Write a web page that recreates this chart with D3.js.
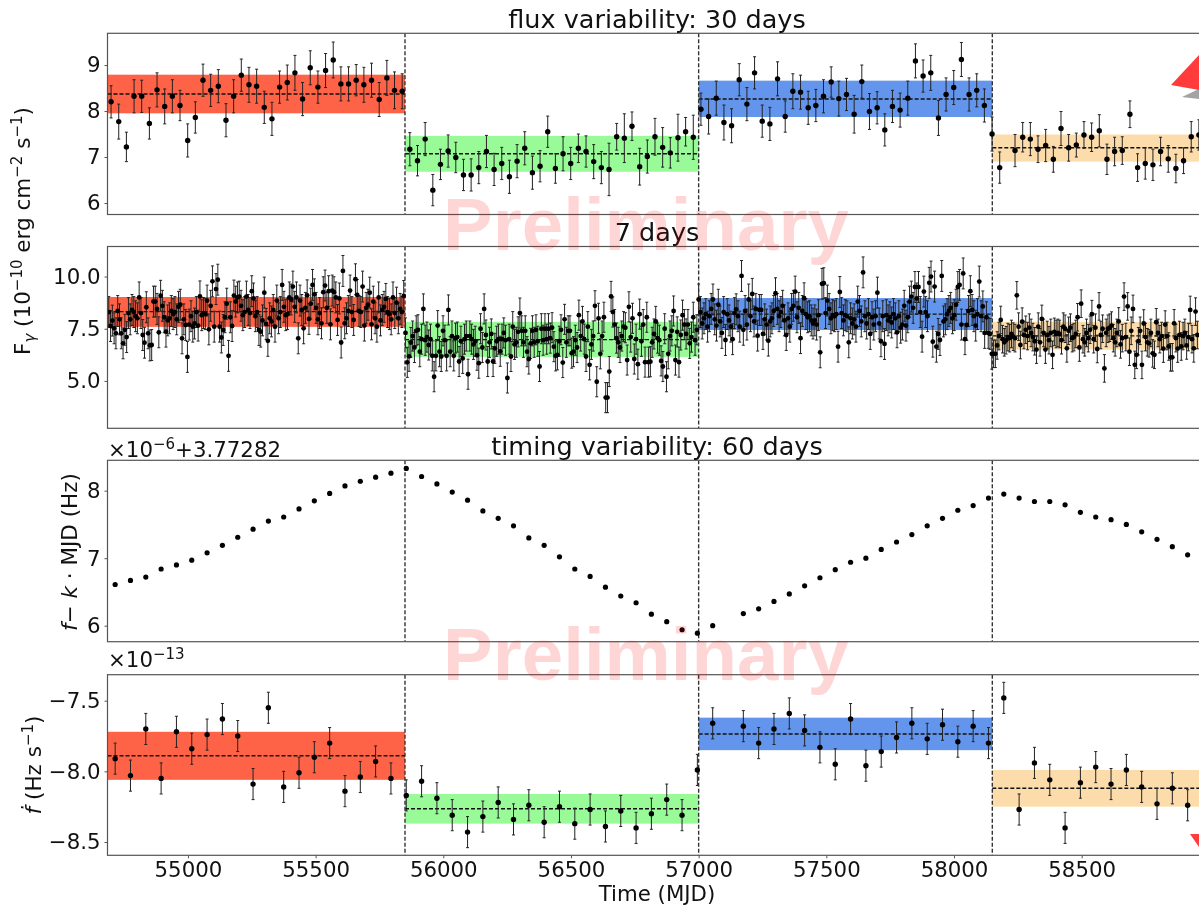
<!DOCTYPE html>
<html>
<head>
<meta charset="utf-8">
<script src="https://d3js.org/d3.v7.min.js"></script>
<style>
  body { margin: 0; background: #fff; }
  svg { display: block; filter: blur(0.35px); }
  text { font-family: "DejaVu Sans", sans-serif; fill: #111; }
</style>
</head>
<body>
<div id="chart"></div>
<script>
// state boundaries in MJD and the colours of the four states
const breaks = [55850, 57000, 58150];
const stateColors = ["#ff6347", "#98fb98", "#6495ed", "#fddcac"];

// band limits and mean for every state, one row per panel
const flux30Low = [7.95, 6.68, 7.87, 6.90];
const flux30High = [8.79, 7.46, 8.66, 7.49];
const flux30Mean = [8.37, 7.07, 8.26, 7.20];
const flux7Low = [7.59, 6.15, 7.44, 6.50];
const flux7High = [9.02, 7.83, 8.97, 7.83];
const flux7Mean = [8.32, 6.98, 8.20, 7.16];
const fdotLow = [-8.06, -8.37, -7.85, -8.25];
const fdotHigh = [-7.72, -8.16, -7.62, -7.99];
const fdotMean = [-7.89, -8.265, -7.736, -8.12];

// flux, 30 day bins
const time30 = [
  54699, 54729, 54759, 54789, 54819, 54849, 54879, 54909, 54939, 54969,
  54999, 55029, 55059, 55089, 55119, 55149, 55179, 55209, 55239, 55269,
  55299, 55329, 55359, 55389, 55419, 55449, 55479, 55509, 55539, 55569,
  55599, 55629, 55659, 55689, 55719, 55749, 55779, 55809, 55839,
  55869, 55899, 55929, 55959, 55989, 56019, 56049, 56079, 56109, 56139,
  56169, 56199, 56229, 56259, 56289, 56319, 56349, 56379, 56409, 56439,
  56469, 56499, 56529, 56559, 56589, 56619, 56649, 56679, 56709, 56739,
  56769, 56799, 56829, 56859, 56889, 56919, 56949, 56979,
  57009, 57039, 57069, 57099, 57129, 57159, 57189, 57219, 57249, 57279,
  57309, 57339, 57369, 57399, 57429, 57459, 57489, 57519, 57549, 57579,
  57609, 57639, 57669, 57699, 57729, 57759, 57789, 57819, 57849, 57879,
  57909, 57939, 57969, 57999, 58029, 58059, 58089, 58119, 58149,
  58179, 58239, 58269, 58299, 58329, 58359, 58389, 58419, 58449, 58479,
  58509, 58539, 58569, 58599, 58629, 58659, 58689, 58719, 58749, 58779,
  58809, 58839, 58869, 58899, 58929, 58959
];
const flux30 = [
  8.20, 7.77, 7.22, 8.32, 8.32, 7.73, 8.46, 8.10, 8.32, 8.12,
  7.36, 7.86, 8.67, 8.45, 8.54, 7.80, 8.32, 8.78, 8.57, 8.54,
  8.08, 7.83, 8.52, 8.62, 8.83, 8.26, 8.94, 8.52, 8.88, 9.11,
  8.59, 8.59, 8.67, 8.57, 8.67, 8.25, 8.72, 8.45, 8.43,
  7.17, 6.92, 7.39, 6.28, 6.84, 7.13, 6.99, 6.61, 6.61, 6.77,
  7.12, 6.73, 6.86, 6.57, 6.91, 7.19, 6.66, 6.80, 7.55, 6.75,
  7.07, 6.86, 7.19, 7.12, 6.90, 6.77, 6.73, 7.44, 7.41, 7.67,
  6.79, 7.01, 7.44, 7.21, 7.09, 7.42, 7.55, 7.43,
  8.04, 7.88, 8.28, 7.75, 7.68, 8.68, 8.15, 8.83, 7.78, 7.72,
  8.70, 7.88, 8.43, 8.41, 8.07, 8.12, 8.32, 8.63, 8.27, 8.36,
  7.93, 8.64, 7.99, 8.07, 7.59, 8.10, 8.02, 8.28, 9.09, 8.76,
  8.83, 7.85, 8.36, 8.51, 9.12, 8.36, 8.45, 8.12, 7.50,
  6.77, 7.14, 7.43, 7.39, 7.17, 7.25, 6.95, 7.62, 7.20, 7.26,
  7.48, 7.43, 7.57, 6.95, 7.12, 7.14, 7.93, 6.77, 6.86, 6.83,
  7.12, 6.96, 6.75, 6.92, 7.44, 7.48
];
const flux30Err = [
  .35, .38, .32, .36, .35, .34, .37, .38, .36, .33,
  .36, .34, .35, .35, .36, .36, .36, .35, .38, .37,
  .35, .36, .35, .38, .38, .36, .37, .35, .37, .39,
  .37, .37, .34, .38, .37, .37, .38, .40, .38,
  .36, .33, .36, .34, .33, .35, .33, .34, .35, .35,
  .35, .35, .35, .36, .36, .36, .36, .34, .34, .32,
  .37, .35, .31, .34, .37, .35, .57, .29, .53, .31,
  .40, .36, .40, .43, .33, .51, .31, .48,
  .35, .38, .37, .38, .37, .35, .36, .35, .35, .36,
  .37, .34, .38, .37, .36, .35, .36, .33, .38, .35,
  .41, .36, .39, .35, .35, .35, .37, .37, .37, .35,
  .38, .38, .36, .37, .37, .36, .36, .36, .37,
  .34, .35, .32, .36, .29, .35, .28, .37, .29, .26,
  .29, .31, .35, .33, .31, .30, .29, .30, .34, .34,
  .31, .29, .31, .28, .33, .33
];

// flux, 7 day bins. error bar read once per state
const flux7Err = [0.74, 0.72, 0.74, 0.66];
const time7 = [
  54690, 54697, 54704, 54711, 54718, 54725, 54732, 54739, 54746, 54753,
  54760, 54767, 54774, 54781, 54788, 54795, 54802, 54809, 54816, 54823,
  54830, 54837, 54844, 54851, 54858, 54865, 54872, 54879, 54886, 54893,
  54900, 54907, 54914, 54921, 54928, 54935, 54942, 54949, 54956, 54963,
  54970, 54977, 54984, 54991, 54998, 55005, 55012, 55019, 55026, 55033,
  55040, 55047, 55054, 55061, 55068, 55075, 55082, 55089, 55096, 55103,
  55110, 55117, 55124, 55131, 55138, 55145, 55152, 55159, 55166, 55173,
  55180, 55187, 55194, 55201, 55208, 55215, 55222, 55229, 55236, 55243,
  55250, 55257, 55264, 55271, 55278, 55285, 55292, 55299, 55306, 55313,
  55320, 55327, 55334, 55341, 55348, 55355, 55362, 55369, 55376, 55383,
  55390, 55397, 55404, 55411, 55418, 55425, 55432, 55439, 55446, 55453,
  55460, 55467, 55474, 55481, 55488, 55495, 55502, 55509, 55516, 55523,
  55530, 55537, 55544, 55551, 55558, 55565, 55572, 55579, 55586, 55593,
  55600, 55607, 55614, 55621, 55628, 55635, 55642, 55649, 55656, 55663,
  55670, 55677, 55684, 55691, 55698, 55705, 55712, 55719, 55726, 55733,
  55740, 55747, 55754, 55761, 55768, 55775, 55782, 55789, 55796, 55803,
  55810, 55817, 55824, 55831, 55838, 55845, 55852, 55859, 55866, 55873,
  55880, 55887, 55894, 55901, 55908, 55915, 55922, 55929, 55936, 55943,
  55950, 55957, 55964, 55971, 55978, 55985, 55992, 55999, 56006, 56013,
  56020, 56027, 56034, 56041, 56048, 56055, 56062, 56069, 56076, 56083,
  56090, 56097, 56104, 56111, 56118, 56125, 56132, 56139, 56146, 56153,
  56160, 56167, 56174, 56181, 56188, 56195, 56202, 56209, 56216, 56223,
  56230, 56237, 56244, 56251, 56258, 56265, 56272, 56279, 56286, 56293,
  56300, 56307, 56314, 56321, 56328, 56335, 56342, 56349, 56356, 56363,
  56370, 56377, 56384, 56391, 56398, 56405, 56412, 56419, 56426, 56433,
  56440, 56447, 56454, 56461, 56468, 56475, 56482, 56489, 56496, 56503,
  56510, 56517, 56524, 56531, 56538, 56545, 56552, 56559, 56566, 56573,
  56580, 56587, 56594, 56601, 56608, 56615, 56622, 56629, 56636, 56643,
  56650, 56657, 56664, 56671, 56678, 56685, 56692, 56699, 56706, 56713,
  56720, 56727, 56734, 56741, 56748, 56755, 56762, 56769, 56776, 56783,
  56790, 56797, 56804, 56811, 56818, 56825, 56832, 56839, 56846, 56853,
  56860, 56867, 56874, 56881, 56888, 56895, 56902, 56909, 56916, 56923,
  56930, 56937, 56944, 56951, 56958, 56965, 56972, 56979, 56986, 56993,
  57000, 57007, 57014, 57021, 57028, 57035, 57042, 57049, 57056, 57063,
  57070, 57077, 57084, 57091, 57098, 57105, 57112, 57119, 57126, 57133,
  57140, 57147, 57154, 57161, 57168, 57175, 57182, 57189, 57196, 57203,
  57210, 57217, 57224, 57231, 57238, 57245, 57252, 57259, 57266, 57273,
  57280, 57287, 57294, 57301, 57308, 57315, 57322, 57329, 57336, 57343,
  57350, 57357, 57364, 57371, 57378, 57385, 57392, 57399, 57406, 57413,
  57420, 57427, 57434, 57441, 57448, 57455, 57462, 57469, 57476, 57483,
  57490, 57497, 57504, 57511, 57518, 57525, 57532, 57539, 57546, 57553,
  57560, 57567, 57574, 57581, 57588, 57595, 57602, 57609, 57616, 57623,
  57630, 57637, 57644, 57651, 57658, 57665, 57672, 57679, 57686, 57693,
  57700, 57707, 57714, 57721, 57728, 57735, 57742, 57749, 57756, 57763,
  57770, 57777, 57784, 57791, 57798, 57805, 57812, 57819, 57826, 57833,
  57840, 57847, 57854, 57861, 57868, 57875, 57882, 57889, 57896, 57903,
  57910, 57917, 57924, 57931, 57938, 57945, 57952, 57959, 57966, 57973,
  57980, 57987, 57994, 58001, 58008, 58015, 58022, 58029, 58036, 58043,
  58050, 58057, 58064, 58071, 58078, 58085, 58092, 58099, 58106, 58113,
  58120, 58127, 58134, 58141, 58148, 58155, 58162, 58169, 58176, 58183,
  58190, 58197, 58204, 58211, 58218, 58225, 58232, 58239, 58246, 58253,
  58260, 58267, 58274, 58281, 58288, 58295, 58302, 58309, 58316, 58323,
  58330, 58337, 58344, 58351, 58358, 58365, 58372, 58379, 58386, 58393,
  58400, 58407, 58414, 58421, 58428, 58435, 58442, 58449, 58456, 58463,
  58470, 58477, 58484, 58491, 58498, 58505, 58512, 58519, 58526, 58533,
  58540, 58547, 58554, 58561, 58568, 58575, 58582, 58589, 58596, 58603,
  58610, 58617, 58624, 58631, 58638, 58645, 58652, 58659, 58666, 58673,
  58680, 58687, 58694, 58701, 58708, 58715, 58722, 58729, 58736, 58743,
  58750, 58757, 58764, 58771, 58778, 58785, 58792, 58799, 58806, 58813,
  58820, 58827, 58834, 58841, 58848, 58855, 58862, 58869, 58876, 58883,
  58890, 58897, 58904, 58911, 58918, 58925, 58932, 58939, 58946, 58953
];
const flux7 = [
  8.3, 7.63, 7.89, 7.52, 7.28, 8.35, 7.95, 7.28, 6.8, 7.45,
  7.1, 8.25, 7.95, 8.4, 8.3, 8.1, 8.0, 9.0, 8.25, 7.2,
  6.83, 8.53, 7.28, 6.7, 6.72, 8.8, 8.8, 8.45, 7.33, 9.08,
  8.6, 8.05, 7.36, 7.9, 8.0, 8.35, 8.2, 8.3, 7.95, 8.55,
  8.65, 7.04, 7.95, 7.68, 6.15, 7.7, 8.1, 7.6, 7.75, 8.3,
  7.65, 9.05, 8.15, 8.25, 8.2, 8.85, 7.47, 8.6, 9.77, 7.6,
  9.4, 9.85, 7.6, 7.08, 7.44, 8.05, 8.7, 6.2, 8.05, 7.63,
  9.09, 8.8, 9.0, 9.04, 8.6, 8.15, 8.3, 9.04, 8.4, 8.25,
  9.3, 8.95, 8.1, 8.3, 7.44, 7.36, 7.9, 9.23, 7.73, 6.92,
  8.0, 7.85, 8.4, 7.6, 8.85, 8.0, 8.3, 9.6, 8.55, 8.15,
  8.2, 9.0, 8.9, 9.52, 8.55, 9.0, 7.04, 8.85, 8.4, 7.52,
  8.5, 9.1, 7.97, 8.7, 9.6, 9.15, 8.5, 7.95, 8.25, 7.76,
  9.25, 9.57, 8.5, 9.3, 7.71, 9.33, 9.25, 9.0, 7.92, 8.95,
  6.84, 10.27, 7.76, 8.0, 8.35, 9.33, 8.3, 7.92, 9.87, 9.12,
  8.35, 8.3, 9.52, 7.65, 8.5, 8.65, 9.23, 7.71, 8.8, 8.0,
  7.6, 9.0, 7.9, 8.4, 8.55, 8.93, 8.3, 8.2, 7.95, 9.0,
  8.25, 8.75, 8.0, 8.45, 8.3, 9.07,
  7.3, 5.89, 6.18, 6.84, 7.15, 6.6, 7.4, 7.45, 6.4, 7.0,
  8.45, 6.95, 7.1, 6.72, 7.0, 6.2, 5.2, 6.2, 7.65, 6.4,
  6.17, 7.4, 6.95, 6.2, 8.4, 6.4, 7.15, 6.2, 7.05, 7.1,
  5.93, 6.9, 6.08, 7.0, 7.15, 5.32, 7.15, 7.0, 6.75, 6.9,
  6.23, 5.85, 7.5, 6.6, 8.45, 7.2, 5.93, 6.85, 7.25, 5.93,
  6.56, 6.9, 7.0, 6.42, 7.0, 7.3, 6.95, 5.14, 7.0, 6.17,
  7.6, 6.75, 6.85, 7.35, 8.25, 7.4, 6.85, 7.4, 6.4, 6.05,
  6.8, 7.4, 6.85, 7.45, 6.9, 5.69, 7.5, 6.95, 7.5, 7.0,
  7.5, 7.05, 7.55, 6.64, 6.2, 6.25, 6.9, 7.45, 5.88, 7.95,
  6.85, 7.4, 7.4, 6.33, 6.4, 6.95, 6.6, 8.15, 7.15, 7.85,
  7.0, 6.17, 7.6, 5.77, 6.75, 7.15, 8.6, 4.96, 8.0, 6.3,
  7.15, 8.05, 4.2, 4.2, 5.45, 9.05, 8.3, 7.7, 7.05, 6.85,
  6.6, 7.15, 7.6, 7.55, 6.0, 8.55, 7.1, 8.0, 6.05, 7.0,
  5.8, 8.2, 6.9, 7.7, 5.9, 8.05, 5.9, 5.92, 6.85, 7.25,
  7.85, 7.05, 6.95, 5.96, 5.69, 7.5, 5.2, 6.3, 7.15, 7.4,
  8.35, 6.0, 7.35, 5.9, 7.2, 8.15, 7.7, 7.25, 7.7, 6.8,
  7.1, 8.05, 6.95, 7.45,
  8.9, 8.3, 7.75, 8.0, 8.2, 7.6, 8.1, 8.45, 8.9, 7.95,
  7.65, 8.65, 7.85, 7.3, 8.3, 6.96, 8.2, 7.9, 7.6, 7.0,
  8.25, 8.43, 8.1, 7.6, 10.03, 7.45, 8.35, 7.7, 8.9, 8.1,
  9.17, 7.85, 8.45, 7.17, 8.4, 8.4, 7.25, 7.95, 7.7, 6.93,
  7.85, 8.0, 8.35, 9.2, 8.45, 8.1, 8.3, 8.6, 7.9, 7.2,
  8.0, 7.6, 8.45, 8.6, 9.28, 8.05, 8.5, 7.05, 8.35, 8.96,
  8.2, 8.05, 8.1, 7.9, 7.75, 7.9, 7.7, 8.15, 6.37, 9.65,
  9.68, 8.25, 8.85, 8.45, 8.0, 8.15, 8.1, 8.2, 6.64, 9.26,
  8.25, 7.9, 8.15, 8.1, 6.85, 8.0, 7.75, 7.95, 7.6, 8.8,
  8.35, 7.85, 10.2, 8.1, 7.75, 8.2, 7.25, 8.05, 7.7, 8.1,
  9.23, 7.75, 6.9, 8.1, 6.77, 8.15, 7.9, 8.05, 7.8, 8.2,
  8.0, 7.33, 8.1, 7.55, 7.7, 8.6, 7.65, 8.05, 8.8, 9.04,
  8.5, 9.5, 8.95, 9.5, 8.3, 7.12, 9.28, 8.3, 8.1, 9.7,
  10.0, 6.88, 9.52, 6.64, 7.25, 6.96, 10.03, 7.85, 7.95, 8.2,
  8.35, 8.5, 8.0, 8.15, 8.65, 9.5, 9.6, 7.7, 10.15, 7.0,
  7.68, 8.35, 9.3, 8.4, 8.1, 7.65, 8.2, 9.76, 8.1, 8.57,
  7.3, 8.05, 7.3, 7.25,
  6.3, 6.3, 6.3, 6.7, 7.15, 7.92, 7.0, 6.85, 6.95, 7.1,
  7.05, 7.25, 7.12, 7.05, 9.1, 7.6, 6.72, 7.84, 7.2, 7.45,
  7.15, 7.55, 7.3, 7.1, 6.9, 6.5, 7.6, 6.85, 7.97, 7.3,
  6.5, 7.2, 6.95, 7.3, 6.25, 7.35, 7.25, 7.3, 7.25, 6.95,
  7.6, 7.5, 6.56, 7.4, 7.55, 7.05, 7.1, 7.25, 8.05, 6.6,
  8.7, 7.0, 6.85, 7.3, 7.05, 7.45, 8.2, 7.0, 7.55, 6.53,
  8.57, 7.2, 7.5, 5.6, 7.3, 7.5, 7.55, 7.65, 7.05, 6.85,
  7.3, 7.85, 6.75, 7.05, 9.04, 7.1, 8.57, 6.4, 7.4, 8.45,
  5.77, 6.25, 6.9, 7.4, 5.77, 7.75, 7.1, 6.85, 6.8, 7.3,
  6.32, 6.25, 7.81, 7.3, 7.0, 7.15, 6.55, 7.7, 7.15, 6.65,
  6.13, 6.13, 7.76, 7.05, 6.55, 7.2, 6.65, 7.15, 7.3, 6.7,
  7.1, 8.4, 7.0, 6.56, 8.32, 7.2
];

// timing, 60 day bins
const time60 = [
  54715, 54775, 54835, 54895, 54955, 55015, 55075, 55135, 55195, 55255,
  55315, 55375, 55435, 55495, 55555, 55615, 55675, 55735, 55795, 55855,
  55915, 55975, 56035, 56095, 56155, 56215, 56275, 56335, 56395, 56455,
  56515, 56575, 56635, 56695, 56755, 56815, 56875, 56935, 56995, 57055,
  57175, 57235, 57295, 57355, 57415, 57475, 57535, 57595, 57655, 57715,
  57775, 57835, 57895, 57955, 58015, 58075, 58135, 58195, 58255, 58315,
  58375, 58435, 58495, 58555, 58615, 58675, 58735, 58795, 58855, 58915
];
const freq = [
  6.61, 6.67, 6.72, 6.84, 6.90, 6.97, 7.08, 7.19, 7.31, 7.43,
  7.55, 7.61, 7.73, 7.85, 7.96, 8.07, 8.14, 8.20, 8.26, 8.33,
  8.21, 8.10, 7.98, 7.86, 7.70, 7.59, 7.48, 7.30, 7.19, 7.02,
  6.84, 6.73, 6.57, 6.44, 6.34, 6.17, 6.06, 5.94, 5.89, 6.00,
  6.18, 6.25, 6.36, 6.47, 6.59, 6.71, 6.83, 6.94, 7.00, 7.13,
  7.24, 7.35, 7.48, 7.59, 7.71, 7.78, 7.89, 7.95, 7.89, 7.84,
  7.84, 7.79, 7.68, 7.61, 7.57, 7.50, 7.39, 7.28, 7.17, 7.05
];
const fdot = [
  -7.91, -8.03, -7.70, -8.05, -7.72, -7.84, -7.74, -7.63, -7.75, -8.09,
  -7.55, -8.11, -8.01, -7.90, -7.80, -8.14, -8.04, -7.93, -8.05, -8.17,
  -8.07, -8.19, -8.31, -8.43, -8.32, -8.22, -8.34, -8.24, -8.36, -8.25,
  -8.37, -8.27, -8.39, -8.28, -8.40, -8.30, -8.20, -8.31, -7.99, -7.66,
  -7.68, -7.80, -7.70, -7.59, -7.71, -7.83, -7.95, -7.63, -7.96, -7.86,
  -7.76, -7.66, -7.77, -7.67, -7.79, -7.68, -7.80, -7.48, -8.27, -7.94,
  -8.06, -8.40, -8.08, -7.97, -8.09, -7.99, -8.11, -8.23, -8.12, -8.24
];
const fdotErr = 0.11;

const xTicks = [55000, 55500, 56000, 56500, 57000, 57500, 58000, 58500];

const width = 1199, height = 905;
const svg = d3.select("#chart").append("svg")
  .attr("width", width).attr("height", height);

const x = d3.scaleLinear().domain([54685, 59055]).range([107.5, 1223.4]);

// one panel: bands, dashed means, state lines, error bars, points, axes
function drawPanel(opt) {
  const y = d3.scaleLinear().domain(opt.domain).range([opt.bottom, opt.top]);
  const id = "clip" + opt.top;

  svg.append("clipPath").attr("id", id).append("rect")
    .attr("x", x.range()[0]).attr("y", opt.top)
    .attr("width", x.range()[1] - x.range()[0]).attr("height", opt.bottom - opt.top);

  const g = svg.append("g").attr("clip-path", "url(#" + id + ")");
  const edges = [x.domain()[0]].concat(breaks, [x.domain()[1]]);

  if (opt.low) {
    const states = d3.range(4);
    g.selectAll(".band").data(states).enter().append("rect")
      .attr("x", d => x(edges[d]))
      .attr("width", d => x(edges[d + 1]) - x(edges[d]))
      .attr("y", d => y(opt.high[d]))
      .attr("height", d => y(opt.low[d]) - y(opt.high[d]))
      .attr("fill", d => stateColors[d]);

    g.selectAll(".mean").data(states).enter().append("line")
      .attr("x1", d => x(edges[d])).attr("x2", d => x(edges[d + 1]))
      .attr("y1", d => y(opt.mean[d])).attr("y2", d => y(opt.mean[d]))
      .attr("stroke", "#111").attr("stroke-width", 1.4).attr("stroke-dasharray", "4,2");
  }

  const pts = opt.time.map((t, i) => ({
    t: t, v: opt.values[i], e: opt.err ? opt.err(i, t) : 0
  }));

  if (opt.err) {
    g.selectAll(".bar").data(pts).enter().append("line")
      .attr("x1", d => x(d.t)).attr("x2", d => x(d.t))
      .attr("y1", d => y(d.v - d.e)).attr("y2", d => y(d.v + d.e))
      .attr("stroke", "#222").attr("stroke-width", 1);
    ["capLow", "capHigh"].forEach((name, k) => {
      g.selectAll("." + name).data(pts).enter().append("line")
        .attr("x1", d => x(d.t) - 1.5).attr("x2", d => x(d.t) + 1.5)
        .attr("y1", d => y(k ? d.v + d.e : d.v - d.e))
        .attr("y2", d => y(k ? d.v + d.e : d.v - d.e))
        .attr("stroke", "#222").attr("stroke-width", 1);
    });
  }

  g.selectAll(".vline").data(breaks).enter().append("line")
    .attr("x1", d => x(d)).attr("x2", d => x(d))
    .attr("y1", opt.top).attr("y2", opt.bottom)
    .attr("stroke", "#333").attr("stroke-width", 1.4).attr("stroke-dasharray", "4,2");

  g.selectAll(".pt").data(pts).enter().append("circle")
    .attr("cx", d => x(d.t)).attr("cy", d => y(d.v))
    .attr("r", opt.r).attr("fill", "#000");

  svg.append("rect")
    .attr("x", x.range()[0]).attr("y", opt.top)
    .attr("width", x.range()[1] - x.range()[0]).attr("height", opt.bottom - opt.top)
    .attr("fill", "none").attr("stroke", "#555").attr("stroke-width", 1.2);

  const yAxis = d3.axisLeft(y).tickValues(opt.ticks).tickFormat(d3.format(opt.fmt))
    .tickSize(3).tickPadding(4);
  const ay = svg.append("g").attr("transform", "translate(" + x.range()[0] + ",0)").call(yAxis);
  ay.select(".domain").remove();
  ay.selectAll("text").attr("font-size", 21.3).style("font-family", '"DejaVu Sans"');
  ay.selectAll("line").attr("stroke", "#555");

  if (opt.showX) {
    const xAxis = d3.axisBottom(x).tickValues(xTicks).tickFormat(d3.format("d"))
      .tickSize(3).tickPadding(4);
    const ax = svg.append("g").attr("transform", "translate(0," + opt.bottom + ")").call(xAxis);
    ax.select(".domain").remove();
    ax.selectAll("text").attr("font-size", 21.3).style("font-family", '"DejaVu Sans"');
    ax.selectAll("line").attr("stroke", "#555");
  }
}

drawPanel({
  top: 33.3, bottom: 214.5, domain: [5.75, 9.69], time: time30, values: flux30,
  err: i => flux30Err[i], r: 2.7, low: flux30Low, high: flux30High, mean: flux30Mean,
  ticks: [6, 7, 8, 9], fmt: "d"
});
drawPanel({
  top: 246.5, bottom: 428.3, domain: [2.73, 11.44], time: time7, values: flux7,
  err: (i, t) => flux7Err[d3.bisect(breaks, t)], r: 2.4,
  low: flux7Low, high: flux7High, mean: flux7Mean,
  ticks: [5, 7.5, 10], fmt: ".1f"
});
drawPanel({
  top: 460.3, bottom: 641.7, domain: [5.763, 8.45], time: time60, values: freq,
  r: 2.6, ticks: [6, 7, 8], fmt: "d"
});
drawPanel({
  top: 674.7, bottom: 855.3, domain: [-8.594, -7.316], time: time60, values: fdot,
  err: () => fdotErr, r: 2.7, low: fdotLow, high: fdotHigh, mean: fdotMean,
  ticks: [-8.5, -8, -7.5], fmt: ".1f", showX: true
});

// titles and axis labels
function label(px, py, size, anchor) {
  return svg.append("text").attr("x", px).attr("y", py)
    .attr("font-size", size).attr("text-anchor", anchor || "middle");
}

label(657, 28, 25.5).text("flux variability: 30 days");
label(657, 241, 25.5).text("7 days");
label(657, 455, 25.5).text("timing variability: 60 days");
label(657, 901, 21.3).text("Time (MJD)");

// offset notes above the timing panels
let off = label(108, 457, 21.3, "start").text("×10");
off.append("tspan").attr("dy", -8).attr("font-size", 15).text("−6");
off.append("tspan").attr("dy", 8).text("+3.77282");
off = label(108, 667, 21.3, "start").text("×10");
off.append("tspan").attr("dy", -8).attr("font-size", 15).text("−13");

// rotated y labels
function rotLabel(px, py) {
  return svg.append("text").attr("font-size", 21.5).attr("text-anchor", "middle")
    .attr("transform", "translate(" + px + "," + py + ") rotate(-90)");
}
let yl = rotLabel(30, 231);
yl.append("tspan").text("F");
yl.append("tspan").attr("dy", 5).attr("font-size", 15).attr("font-style", "italic").text("γ");
yl.append("tspan").attr("dy", -5).text(" (10");
yl.append("tspan").attr("dy", -8).attr("font-size", 15).text("−10");
yl.append("tspan").attr("dy", 8).text(" erg cm");
yl.append("tspan").attr("dy", -8).attr("font-size", 15).text("−2");
yl.append("tspan").attr("dy", 8).text(" s");
yl.append("tspan").attr("dy", -8).attr("font-size", 15).text("−1");
yl.append("tspan").attr("dy", 8).text(")");

yl = rotLabel(77, 552);
yl.append("tspan").attr("font-style", "italic").text("f");
yl.append("tspan").text("− ");
yl.append("tspan").attr("font-style", "italic").text("k");
yl.append("tspan").text(" · MJD (Hz)");

yl = rotLabel(41, 765);
yl.append("tspan").attr("font-style", "italic").text("ḟ");
yl.append("tspan").text(" (Hz s");
yl.append("tspan").attr("dy", -8).attr("font-size", 15).text("−1");
yl.append("tspan").attr("dy", 8).text(")");

// logo fragments at the right edge
svg.append("polygon").attr("points", "1182,97 1199,89 1199,99").attr("fill", "#a3a3a3");
svg.append("polygon").attr("points", "1171,85 1199,55 1199,90").attr("fill", "#ff3b3b");
svg.append("polygon").attr("points", "1190,834 1199,834 1199,847").attr("fill", "#ff3b3b");

// watermark on top of everything
[250, 680].forEach(py => {
  svg.append("text").attr("x", 646).attr("y", py)
    .attr("text-anchor", "middle").attr("font-size", 74.5).attr("font-weight", "bold")
    .style("font-family", '"Liberation Sans", Arial, sans-serif')
    .style("fill", "#ff0000").style("opacity", 0.16)
    .text("Preliminary");
});
</script>
</body>
</html>
